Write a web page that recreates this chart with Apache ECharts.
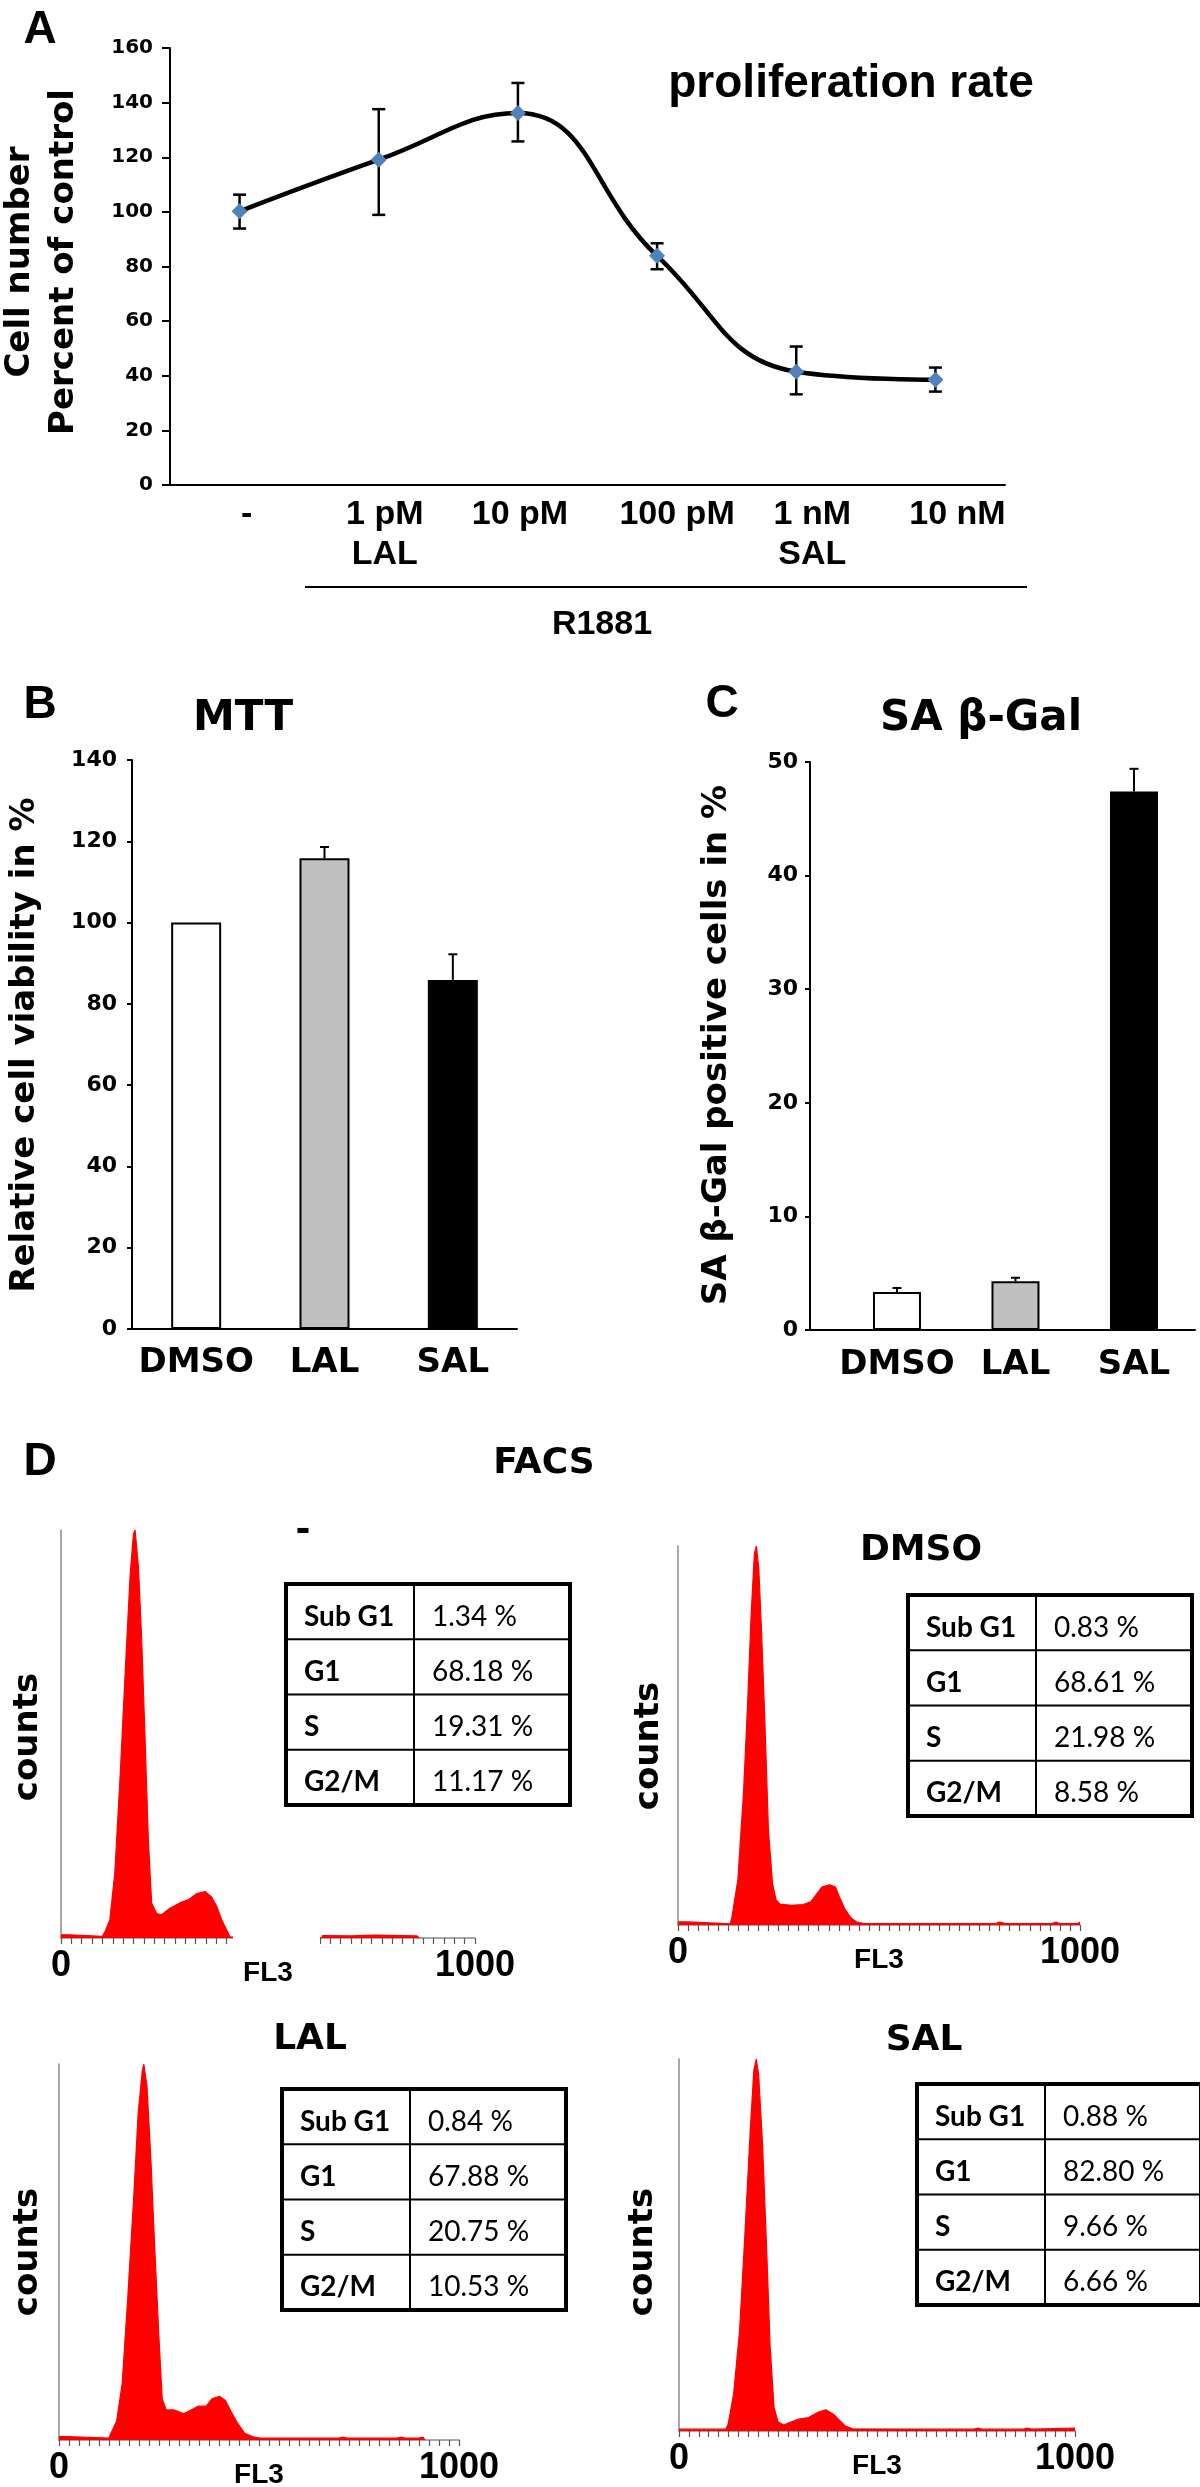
<!DOCTYPE html>
<html><head><meta charset="utf-8">
<script src="https://cdn.jsdelivr.net/npm/echarts@6/dist/echarts.min.js"></script>
<style>html,body{margin:0;padding:0;background:#fff}#c{width:1200px;height:2487px}</style>
</head><body><div id="c"></div>
<script>
// ---------- Panel A: proliferation rate ----------
const concLabels = ['-', '1 pM\nLAL', '10 pM', '100 pM', '1 nM\nSAL', '10 nM'];
const prolifMean = [100.2, 119.1, 136.2, 83.9, 41.5, 38.5];
const prolifLow  = [93.9, 98.9, 125.8, 79.0, 33.2, 34.2];
const prolifHigh = [106.3, 137.6, 147.2, 88.5, 50.7, 43.0];
const prolifTicks = [0, 160, 20];
// ---------- Panel B: MTT ----------
const mttCats = ['DMSO', 'LAL', 'SAL'];
const mttMean = [100, 115.8, 85.9];
const mttUpper = [100, 118.6, 92.2];
// ---------- Panel C: SA beta-Gal ----------
const galCats = ['DMSO', 'LAL', 'SAL'];
const galMean = [3.34, 4.3, 47.4];
const galUpper = [3.7, 4.6, 49.4];
// ---------- Panel D: FACS tables ----------
const rowLabels = ['Sub G1', 'G1', 'S', 'G2/M'];
const facsNone = ['1.34 %', '68.18 %', '19.31 %', '11.17 %'];
const facsDMSO = ['0.83 %', '68.61 %', '21.98 %', '8.58 %'];
const facsLAL  = ['0.84 %', '67.88 %', '20.75 %', '10.53 %'];
const facsSAL  = ['0.88 %', '82.80 %', '9.66 %', '6.66 %'];
// ---------- Panel D: FACS histograms [FL3, relative counts] ----------
const histNone = [[0,0.8],[20,0.8],[22,0.4],[100,0.4],[106,1.5],[118,4.5],[130,16],[143,40],[155,65],[167,89],[175,99],[179,100],[187,91],[195,73],[203,49],[211,24],[219,8.6],[231,6],[243,5.7],[263,7.3],[287,8.6],[308,9.4],[328,10.9],[348,11.4],[364,10],[376,7.8],[388,4.5],[400,2],[408,0.3],[412,0],[630,0],[632,0.6],[700,0.5],[760,0.7],[860,0.5],[865,0]];
const histDMSO = [[0,0.8],[25,0.8],[27,0.3],[130,0.3],[134,2],[149,12],[163,35],[173,58],[182,82],[190,98],[195,100],[201,94],[208,77],[216,54],[225,25],[235,11],[244,6.6],[254,5.5],[282,5.2],[311,5.4],[330,6.1],[344,8],[358,10],[377,10.6],[392,10],[401,7.5],[415,4.2],[430,1.9],[444,0.8],[463,0.4],[790,0.4],[800,0.8],[815,0.4],[930,0.4],[940,0.8],[950,0.4],[995,0.4],[1000,0.8]];
const histLAL  = [[0,0.9],[19,0.9],[21,0.5],[125,0.5],[129,1.6],[144,5],[158,15],[172,38],[187,65],[198,87],[208,98],[212,100],[220,94],[230,74],[239,52],[249,29],[258,11],[268,8],[287,8],[311,7],[330,8],[349,9],[368,9],[383,11],[402,11.6],[416,10.5],[431,7.4],[445,4.7],[464,1.8],[483,0.9],[502,0.5],[700,0.5],[710,0.8],[720,0.5],[845,0.5],[855,0.8],[865,0.5],[900,0.5],[910,0.8],[915,0]];
const histSAL  = [[0,0.5],[118,0.5],[124,1.8],[138,10],[153,27],[167,54],[180,81],[189,97],[195,100],[201,96],[211,77],[221,50],[230,23],[240,6.3],[250,2.5],[264,1.6],[284,2.5],[303,3.2],[327,3.6],[351,5],[371,5.7],[390,4.5],[405,2.9],[419,1.4],[439,0.6],[745,0.5],[755,0.8],[765,0.5],[870,0.5],[880,0.8],[890,0.5],[1000,0.8]];
const histTicks = [0, 1000, 25];

// styling (kept apart from the data)
const concLabelShift = [7, 6, 2, 20, 16, 22];
const LIB = '"Liberation Sans", Arial, sans-serif';
const DJ = '"DejaVu Sans", Verdana, sans-serif';
const LATO = 'Lato, "Open Sans", sans-serif';
const barFills = ['#ffffff', '#c0c0c0', '#000000'];

function txt(text, x, y, font, align, rot) {
  return {type: 'text', x: x, y: y, rotation: rot || 0, z: 20,
    style: {text: text, font: font, fill: '#000', align: align || 'center', verticalAlign: 'middle',
            textAlign: align || 'center', textVerticalAlign: 'middle'}};
}
function table(left, top, vals) {
  const W = 284, H = 221, C = 128, rh = H / 4, els = [];
  els.push({type: 'rect', z: 10, shape: {x: left, y: top, width: W, height: H}, style: {fill: '#fff', stroke: '#000', lineWidth: 4}});
  els.push({type: 'line', z: 11, shape: {x1: left + C, y1: top, x2: left + C, y2: top + H}, style: {stroke: '#000', lineWidth: 2}});
  for (let i = 1; i < 4; i++) els.push({type: 'line', z: 11, shape: {x1: left, y1: top + rh * i, x2: left + W, y2: top + rh * i}, style: {stroke: '#000', lineWidth: 2}});
  for (let i = 0; i < 4; i++) {
    const y = top + rh * i + rh / 2 + 5;
    els.push(txt(rowLabels[i], left + 18, y, 'bold 28px ' + LATO, 'left'));
    els.push(txt(vals[i], left + C + 18, y, '28px ' + LATO, 'left'));
  }
  return els;
}
function errRender(capW, lw, both) {
  return function (params, api) {
    const x = api.value(0), lo = api.value(1), hi = api.value(2);
    if (hi === lo) return null;
    const a = api.coord([x, lo]), b = api.coord([x, hi]);
    const st = {stroke: '#000', lineWidth: lw};
    const ch = [
      {type: 'line', shape: {x1: a[0], y1: a[1], x2: b[0], y2: b[1]}, style: st},
      {type: 'line', shape: {x1: b[0] - capW / 2, y1: b[1], x2: b[0] + capW / 2, y2: b[1]}, style: st}
    ];
    if (both) ch.push({type: 'line', shape: {x1: a[0] - capW / 2, y1: a[1], x2: a[0] + capW / 2, y2: a[1]}, style: st});
    return {type: 'group', children: ch};
  };
}
const black = {color: '#000', width: 2};
const gray = {color: '#8a8a8a', width: 1.5};
function histX(idx) {
  return {type: 'value', gridIndex: idx, min: histTicks[0], max: histTicks[1], interval: histTicks[2],
    axisLine: {show: true, onZero: false, lineStyle: gray}, axisTick: {show: true, length: 6, lineStyle: {color: '#555', width: 1.2}},
    splitLine: {show: false},
    axisLabel: {margin: 10, color: '#000', fontFamily: LIB, fontWeight: 'bold', fontSize: 36,
      formatter: function (v) { return (v === histTicks[0] || v === histTicks[1]) ? String(v) : ''; }},
    name: 'FL3', nameLocation: 'middle', nameGap: 21, nameMoveOverlap: false,
    nameTextStyle: {color: '#000', fontFamily: LIB, fontWeight: 'bold', fontSize: 28}};
}
function histY(idx) {
  return {type: 'value', gridIndex: idx, min: 0, max: 100, axisLine: {show: true, onZero: false, lineStyle: gray},
    axisTick: {show: false}, axisLabel: {show: false}, splitLine: {show: false}};
}
function histSeries(idx, data) {
  return {type: 'line', xAxisIndex: idx, yAxisIndex: idx, data: data, showSymbol: false, symbol: 'none',
    lineStyle: {color: '#ff0000', width: 1.2}, areaStyle: {color: '#ff0000', opacity: 1}, silent: true, z: 3};
}

const grids = [
  {left: 170, top: 48, width: 835, height: 437},
  {left: 132, top: 760, width: 385, height: 569},
  {left: 810, top: 762, width: 385, height: 568},
  {left: 61, top: 1530, width: 414, height: 408},
  {left: 678, top: 1546, width: 402, height: 379},
  {left: 59, top: 2064, width: 400, height: 376},
  {left: 679, top: 2059, width: 396, height: 372}
].map(g => Object.assign({outerBoundsMode: 'none', containLabel: false}, g));

const graphic = [
  txt('A', 40, 30, 'bold 46px ' + LIB),
  txt('Cell number', 20, 262, 'bold 34px ' + DJ, 'center', Math.PI / 2),
  txt('Percent of control', 64, 262, 'bold 34px ' + DJ, 'center', Math.PI / 2),
  txt('proliferation rate', 851, 84, 'bold 46px ' + LIB),
  {type: 'line', z: 20, shape: {x1: 305, y1: 587, x2: 1027, y2: 587}, style: {stroke: '#000', lineWidth: 2}},
  txt('R1881', 602, 625, 'bold 34px ' + LIB),
  txt('B', 40, 705, 'bold 46px ' + LIB),
  txt('MTT', 243, 719, 'bold 42px ' + DJ),
  txt('Relative cell viability in %', 25, 1045, 'bold 34px ' + DJ, 'center', Math.PI / 2),
  txt('C', 722, 704, 'bold 46px ' + LIB),
  txt('SA β-Gal', 981, 719, 'bold 42px ' + DJ),
  txt('SA β-Gal positive cells in %', 717, 1045, 'bold 34px ' + DJ, 'center', Math.PI / 2),
  txt('D', 40, 1462, 'bold 46px ' + LIB),
  txt('FACS', 544, 1464, 'bold 36px ' + DJ),
  txt('-', 303, 1532, 'bold 36px ' + DJ),
  txt('DMSO', 921, 1551, 'bold 36px ' + DJ),
  txt('LAL', 310, 2040, 'bold 36px ' + DJ),
  txt('SAL', 924, 2041, 'bold 36px ' + DJ),
  txt('counts', 28, 1737, 'bold 34px ' + DJ, 'center', Math.PI / 2),
  txt('counts', 649, 1746, 'bold 34px ' + DJ, 'center', Math.PI / 2),
  txt('counts', 28, 2252, 'bold 34px ' + DJ, 'center', Math.PI / 2),
  txt('counts', 643, 2252, 'bold 34px ' + DJ, 'center', Math.PI / 2),
  {type: 'rect', z: 30, shape: {x: 233, y: 1928, width: 87, height: 20}, style: {fill: '#fff'}}
].concat(table(286, 1584, facsNone), table(908, 1595, facsDMSO), table(282, 2089, facsLAL), table(917, 2084, facsSAL));

const option = {
  animation: false,
  backgroundColor: '#fff',
  grid: grids,
  xAxis: [
    {type: 'category', gridIndex: 0,
      data: concLabels.map((c, i) => ({value: c, textStyle: {padding: [0, 0, 0, 2 * concLabelShift[i]]}})),
      axisLine: {lineStyle: black}, axisTick: {show: false},
      axisLabel: {margin: 10, color: '#000', fontFamily: LIB, fontWeight: 'bold', fontSize: 34, lineHeight: 40, interval: 0}},
    {type: 'category', gridIndex: 1, data: mttCats, axisLine: {lineStyle: black}, axisTick: {show: false},
      axisLabel: {margin: 17, color: '#000', fontFamily: DJ, fontWeight: 'bold', fontSize: 34, interval: 0}},
    {type: 'value', gridIndex: 2, min: -0.734, max: 2.515, axisLine: {show: true, onZero: false, lineStyle: black}, axisTick: {show: false},
      splitLine: {show: false},
      axisLabel: {margin: 18, color: '#000', fontFamily: DJ, fontWeight: 'bold', fontSize: 34, customValues: [0, 1, 2],
        formatter: function (v) { return galCats[Math.round(v)] || ''; }}},
    histX(3), histX(4), histX(5), histX(6)
  ],
  yAxis: [
    {type: 'value', gridIndex: 0, min: prolifTicks[0], max: prolifTicks[1], interval: prolifTicks[2],
      axisLine: {show: true, lineStyle: black}, axisTick: {show: true, length: 8, lineStyle: black}, splitLine: {show: false},
      axisLabel: {margin: 17, color: '#000', fontFamily: DJ, fontWeight: 'bold', fontSize: 20}},
    {type: 'value', gridIndex: 1, min: 0, max: 140, interval: 20,
      axisLine: {show: true, lineStyle: black}, axisTick: {show: true, length: 5, lineStyle: black}, splitLine: {show: false},
      axisLabel: {margin: 15, color: '#000', fontFamily: DJ, fontWeight: 'bold', fontSize: 22}},
    {type: 'value', gridIndex: 2, min: 0, max: 50, interval: 10,
      axisLine: {show: true, onZero: false, lineStyle: black}, axisTick: {show: true, length: 5, lineStyle: black}, splitLine: {show: false},
      axisLabel: {margin: 12, color: '#000', fontFamily: DJ, fontWeight: 'bold', fontSize: 22}},
    histY(3), histY(4), histY(5), histY(6)
  ],
  series: [
    {type: 'custom', xAxisIndex: 0, yAxisIndex: 0, renderItem: errRender(13, 2.5, true), z: 3, silent: true,
      encode: {x: 0, y: [1, 2]}, data: prolifMean.map((v, i) => [i, prolifLow[i], prolifHigh[i]])},
    {type: 'line', xAxisIndex: 0, yAxisIndex: 0, data: prolifMean, smooth: 0.45, z: 4, silent: true,
      lineStyle: {color: '#000', width: 4.5}, symbol: 'diamond', symbolSize: 16, showSymbol: true,
      itemStyle: {color: '#4f81bd', borderWidth: 0}},
    {type: 'bar', xAxisIndex: 1, yAxisIndex: 1, barWidth: 50, silent: true,
      data: mttMean.map((v, i) => ({value: v, itemStyle: {color: barFills[i], borderColor: '#000', borderWidth: 2}}))},
    {type: 'custom', xAxisIndex: 1, yAxisIndex: 1, renderItem: errRender(9, 2, false), z: 5, silent: true,
      encode: {x: 0, y: [1, 2]}, data: mttMean.map((v, i) => [i, v, mttUpper[i]])},
    {type: 'bar', xAxisIndex: 2, yAxisIndex: 2, barWidth: 48, silent: true,
      data: galMean.map((v, i) => ({value: [i, v], itemStyle: {color: barFills[i], borderColor: '#000', borderWidth: 2}}))},
    {type: 'custom', xAxisIndex: 2, yAxisIndex: 2, renderItem: errRender(9, 2, false), z: 5, silent: true,
      encode: {x: 0, y: [1, 2]}, data: galMean.map((v, i) => [i, v, galUpper[i]])},
    histSeries(3, histNone), histSeries(4, histDMSO), histSeries(5, histLAL), histSeries(6, histSAL)
  ],
  graphic: graphic
};
const chart = echarts.init(document.getElementById('c'), null, {renderer: 'canvas', width: 1200, height: 2487});
chart.setOption(option);
</script></body></html>
